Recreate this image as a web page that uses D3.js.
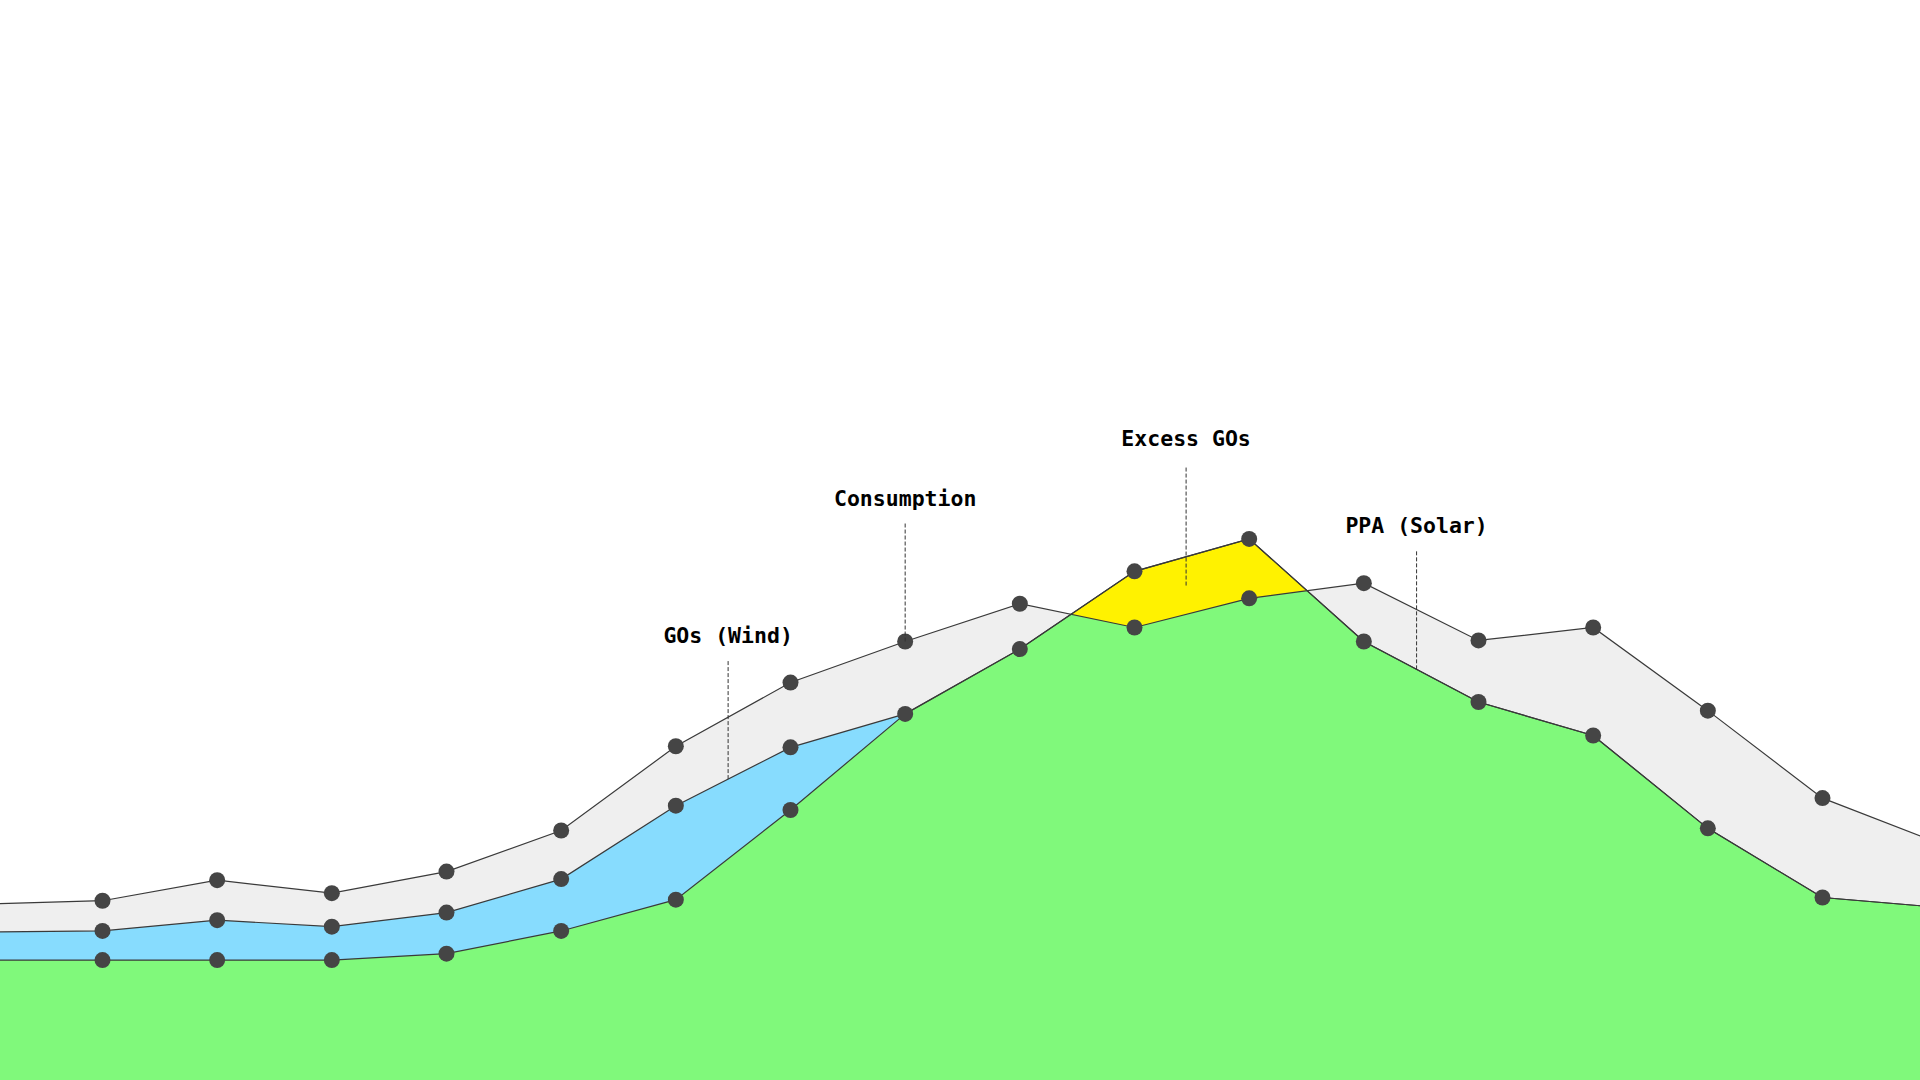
<!DOCTYPE html>
<html>
<head>
<meta charset="utf-8">
<script src="https://cdn.jsdelivr.net/npm/d3@7"></script>
<style>
  html, body { margin: 0; padding: 0; background: #ffffff; }
  svg { display: block; }
</style>
</head>
<body>
<script>
// ---- Data (index -1 and 16 sit just outside the visible frame) ----
const periods     = [-1, 0, 1, 2, 3, 4, 5, 6, 7, 8, 9, 10, 11, 12, 13, 14, 15, 16];
const consumption = [16.3, 16.6, 18.5, 17.3, 19.3, 23.1, 30.9, 36.8, 40.6, 44.1, 41.9, 44.6, 46.0, 40.7, 41.9, 34.2, 26.1, 22.0];
const solarPPA    = [11.1, 11.1, 11.1, 11.1, 11.7, 13.8, 16.7, 25.0, 33.9, 39.9, 47.1, 50.1, 40.6, 35.0, 31.9, 23.3, 16.9, 16.0];
const windGOs     = [2.6, 2.7, 3.7, 3.1, 3.8, 4.8, 8.7, 5.8, 0, 0, 0, 0, 0, 0, 0, 0, 0, 0];
const labels      = ["GOs (Wind)", "Consumption", "Excess GOs", "PPA (Solar)"];

const W = 1920, H = 1080;
const colors = { gray: "#efefef", blue: "#87dcfe", green: "#80f97b", yellow: "#fff200", line: "#3a3a3a", dot: "#454545" };

const data = periods.map((p, i) => ({
  p, cons: consumption[i], solar: solarPPA[i], wind: windGOs[i], stack: solarPPA[i] + windGOs[i]
}));

const x = d3.scaleLinear().domain([0, 15]).range([102.5, 1822.5]);
const y = d3.scaleLinear().domain([0, 100]).range([H, 0]);

const svg = d3.select("body").append("svg").attr("width", W).attr("height", H);
const defs = svg.append("defs");

// clip: region above the consumption line (for the excess area)
defs.append("clipPath").attr("id", "aboveCons")
  .append("path")
  .attr("d", d3.area().x(d => x(d.p)).y0(0).y1(d => y(d.cons))(data));

const g = svg.append("g");

const areaTo = key => d3.area().x(d => x(d.p)).y0(H).y1(d => y(d[key]));

g.append("path").attr("d", areaTo("cons")(data)).attr("fill", colors.gray);
g.append("path").attr("d", areaTo("stack")(data)).attr("fill", colors.blue);
g.append("path").attr("d", areaTo("solar")(data)).attr("fill", colors.green);
g.append("path").attr("d", areaTo("solar")(data)).attr("fill", colors.yellow).attr("clip-path", "url(#aboveCons)");

const lineOf = key => d3.line().x(d => x(d.p)).y(d => y(d[key]));
["cons", "stack", "solar"].forEach(k => {
  g.append("path").attr("d", lineOf(k)(data))
    .attr("fill", "none").attr("stroke", colors.line).attr("stroke-width", 1.2);
});

// markers
const dots = [];
data.forEach(d => {
  dots.push({ p: d.p, v: d.cons });
  dots.push({ p: d.p, v: d.solar });
  if (d.wind > 0) dots.push({ p: d.p, v: d.stack });
});
g.selectAll("circle.dot").data(dots).join("circle")
  .attr("class", "dot")
  .attr("cx", d => x(d.p)).attr("cy", d => y(d.v)).attr("r", 8)
  .attr("fill", colors.dot);

// ---- annotations ----
function interp(key, t) {
  const i0 = Math.floor(t), f = t - i0;
  const a = data.find(d => d.p === i0), b = data.find(d => d.p === i0 + 1);
  return b ? a[key] + (b[key] - a[key]) * f : a[key];
}
const annots = [
  { text: labels[0], at: 5.456, gap: 18, end: t => interp("stack", t) },
  { text: labels[1], at: 7,     gap: 18, end: t => interp("cons", t) },
  { text: labels[2], at: 9.45,  gap: 22, end: t => (interp("cons", t) + interp("solar", t)) / 2 },
  { text: labels[3], at: 11.46, gap: 18, end: t => interp("solar", t) }
];
const lineLen = 118;
annots.forEach(a => {
  const xe = x(a.at), ye = y(a.end(a.at));
  const yt = ye - lineLen;
  svg.append("line")
    .attr("x1", xe).attr("x2", xe).attr("y1", yt).attr("y2", ye)
    .attr("stroke", "#333").attr("stroke-width", 1).attr("stroke-dasharray", "4,2");
  svg.append("text")
    .attr("x", xe).attr("y", yt - a.gap)
    .attr("text-anchor", "middle")
    .attr("font-family", "'DejaVu Sans Mono', 'Liberation Mono', monospace")
    .attr("font-weight", "bold")
    .attr("font-size", 21.5)
    .attr("fill", "#000")
    .text(a.text);
});
</script>
</body>
</html>
